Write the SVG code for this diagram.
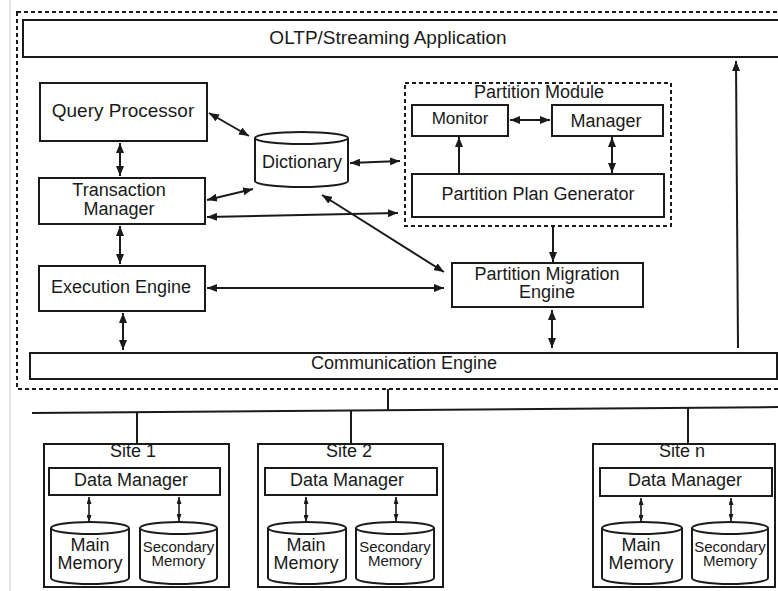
<svg xmlns="http://www.w3.org/2000/svg" width="778" height="591" viewBox="0 0 778 591">
  <style>
    .box { fill: #ffffff; stroke: #1a1a1a; stroke-width: 2; }
    .frame { fill: none; stroke: #1a1a1a; stroke-width: 2; stroke-dasharray: 4 3; }
    .cyl { fill: #ffffff; stroke: #1a1a1a; stroke-width: 2; }
    .lbl { font-family: "Liberation Sans", Arial, sans-serif; font-size: 18px; fill: #1a1a1a; text-anchor: middle; }
    .big { font-size: 19px; }
    .small { font-size: 15px; }
    .wire { fill: none; stroke: #1a1a1a; stroke-width: 2; }
    .arr { fill: none; stroke: #1a1a1a; stroke-width: 2; marker-end: url(#ah); }
    .arr2 { fill: none; stroke: #1a1a1a; stroke-width: 2; marker-start: url(#ah); marker-end: url(#ah); }
    .sarr2 { fill: none; stroke: #1a1a1a; stroke-width: 1.6; marker-start: url(#sah); marker-end: url(#sah); }
  </style>
  <defs>
    <marker id="ah" viewBox="0 0 10 8" refX="10" refY="4" markerWidth="10" markerHeight="8" orient="auto-start-reverse" markerUnits="userSpaceOnUse">
      <path d="M0,0 L10,4 L0,8 z" fill="#1a1a1a"/>
    </marker>
    <marker id="sah" viewBox="0 0 7 5" refX="7" refY="2.5" markerWidth="7" markerHeight="5" orient="auto-start-reverse" markerUnits="userSpaceOnUse">
      <path d="M0,0 L7,2.5 L0,5 z" fill="#1a1a1a"/>
    </marker>
  </defs>

  <!-- page edge -->
  <line x1="10" y1="0" x2="10" y2="591" stroke="#cccccc" stroke-width="1"/>

  <!-- server frame -->
  <rect id="server-frame" class="frame" x="17" y="12" width="780" height="377"/>

  <g id="oltp-app">
    <rect class="box" x="23" y="20" width="770" height="37"/>
    <text class="lbl big" x="388" y="44">OLTP/Streaming Application</text>
  </g>

  <g id="query-processor">
    <rect class="box" x="40" y="83" width="167" height="58"/>
    <text class="lbl big" x="123" y="117">Query Processor</text>
  </g>

  <g id="transaction-manager">
    <rect class="box" x="39" y="178" width="166" height="46"/>
    <text class="lbl" x="119" y="196">Transaction</text>
    <text class="lbl" x="119" y="215">Manager</text>
  </g>

  <g id="execution-engine">
    <rect class="box" x="39" y="266" width="166" height="45"/>
    <text class="lbl" x="121" y="293">Execution Engine</text>
  </g>

  <g id="communication-engine">
    <rect class="box" x="30" y="353" width="747" height="26"/>
    <text class="lbl" x="404" y="369">Communication Engine</text>
  </g>

  <g id="dictionary">
    <path class="cyl" d="M255,138 L255,181 A46.5,6 0 0 0 348,181 L348,138"/>
    <ellipse class="cyl" cx="301.5" cy="138" rx="46.5" ry="6"/>
    <text class="lbl" x="302" y="168">Dictionary</text>
  </g>

  <g id="partition-module">
    <rect class="frame" x="405" y="83" width="266" height="143"/>
    <text class="lbl" x="539" y="98">Partition Module</text>
  </g>

  <g id="monitor">
    <rect class="box" x="412" y="105" width="96" height="31"/>
    <text class="lbl" x="460" y="124" style="font-size:17px">Monitor</text>
  </g>

  <g id="manager">
    <rect class="box" x="552" y="105" width="111" height="31"/>
    <text class="lbl" x="606" y="127">Manager</text>
  </g>

  <g id="partition-plan-generator">
    <rect class="box" x="412" y="174" width="252" height="43"/>
    <text class="lbl" x="538" y="200">Partition Plan Generator</text>
  </g>

  <g id="partition-migration-engine">
    <rect class="box" x="452" y="263" width="191" height="44"/>
    <text class="lbl" x="547" y="280">Partition Migration</text>
    <text class="lbl" x="547" y="298">Engine</text>
  </g>

  <!-- sites -->
  <g id="site-1">
    <rect class="box" x="44" y="444" width="185" height="143"/>
    <text class="lbl" x="133" y="457">Site 1</text>
    <rect class="box" x="49" y="468" width="171" height="27"/>
    <text class="lbl" x="131" y="486">Data Manager</text>
    <path class="cyl" d="M51,528 L51,578 A39,6 0 0 0 129,578 L129,528"/>
    <ellipse class="cyl" cx="90" cy="528" rx="39" ry="6"/>
    <text class="lbl" x="90" y="551">Main</text>
    <text class="lbl" x="90" y="569">Memory</text>
    <path class="cyl" d="M140,528 L140,578 A38.5,6 0 0 0 217,578 L217,528"/>
    <ellipse class="cyl" cx="178.5" cy="528" rx="38.5" ry="6"/>
    <text class="lbl small" x="178.5" y="552">Secondary</text>
    <text class="lbl small" x="178.5" y="566">Memory</text>
  </g>

  <g id="site-2">
    <rect class="box" x="258" y="444" width="185" height="143"/>
    <text class="lbl" x="349" y="457">Site 2</text>
    <rect class="box" x="265" y="468" width="172" height="27"/>
    <text class="lbl" x="347" y="486">Data Manager</text>
    <path class="cyl" d="M268,528 L268,578 A39,6 0 0 0 346,578 L346,528"/>
    <ellipse class="cyl" cx="307" cy="528" rx="39" ry="6"/>
    <text class="lbl" x="306" y="551">Main</text>
    <text class="lbl" x="306" y="569">Memory</text>
    <path class="cyl" d="M356,528 L356,578 A39,6 0 0 0 434,578 L434,528"/>
    <ellipse class="cyl" cx="395" cy="528" rx="39" ry="6"/>
    <text class="lbl small" x="395" y="552">Secondary</text>
    <text class="lbl small" x="395" y="566">Memory</text>
  </g>

  <g id="site-n">
    <rect class="box" x="593" y="444" width="182" height="143"/>
    <text class="lbl" x="682" y="457">Site n</text>
    <rect class="box" x="600" y="468" width="172" height="28"/>
    <text class="lbl" x="685" y="486">Data Manager</text>
    <path class="cyl" d="M602,528 L602,578 A40,6 0 0 0 682,578 L682,528"/>
    <ellipse class="cyl" cx="642" cy="528" rx="40" ry="6"/>
    <text class="lbl" x="641" y="551">Main</text>
    <text class="lbl" x="641" y="569">Memory</text>
    <path class="cyl" d="M692,528 L692,578 A38,6 0 0 0 768,578 L768,528"/>
    <ellipse class="cyl" cx="730" cy="528" rx="38" ry="6"/>
    <text class="lbl small" x="730" y="552">Secondary</text>
    <text class="lbl small" x="730" y="566">Memory</text>
  </g>

  <!-- connectors -->
  <g id="connectors">
    <line class="arr2" x1="209" y1="113" x2="249" y2="136"/>
    <line class="arr2" x1="120" y1="143" x2="120" y2="176"/>
    <line class="arr2" x1="207" y1="200" x2="253" y2="189"/>
    <line class="arr2" x1="207" y1="217" x2="398" y2="213"/>
    <line class="arr2" x1="350" y1="163" x2="400" y2="161"/>
    <line class="arr2" x1="322" y1="195" x2="444" y2="272"/>
    <line class="arr2" x1="120" y1="226" x2="120" y2="264"/>
    <line class="arr2" x1="207" y1="288" x2="444" y2="288"/>
    <line class="arr2" x1="123" y1="313" x2="123" y2="350"/>
    <line class="arr2" x1="510" y1="120" x2="550" y2="120"/>
    <line class="arr" x1="459" y1="173" x2="459" y2="137"/>
    <line class="arr2" x1="612" y1="137" x2="612" y2="173"/>
    <line class="arr" x1="553" y1="226" x2="553" y2="262"/>
    <line class="arr2" x1="552" y1="310" x2="552" y2="348"/>
    <line class="arr" x1="738" y1="348" x2="736" y2="61"/>

    <!-- network bus -->
    <line class="wire" x1="388" y1="389" x2="388" y2="410"/>
    <line class="wire" x1="32" y1="413" x2="780" y2="407"/>
    <line class="wire" x1="137" y1="412" x2="137" y2="444"/>
    <line class="wire" x1="351" y1="410" x2="351" y2="444"/>
    <line class="wire" x1="688" y1="408" x2="688" y2="444"/>

    <!-- site-local links -->
    <line class="sarr2" x1="89" y1="497" x2="89" y2="522"/>
    <line class="sarr2" x1="179" y1="497" x2="179" y2="521"/>
    <line class="sarr2" x1="306" y1="497" x2="306" y2="522"/>
    <line class="sarr2" x1="396" y1="497" x2="396" y2="521"/>
    <line class="sarr2" x1="641" y1="498" x2="641" y2="522"/>
    <line class="sarr2" x1="731" y1="498" x2="731" y2="521"/>
  </g>
</svg>
